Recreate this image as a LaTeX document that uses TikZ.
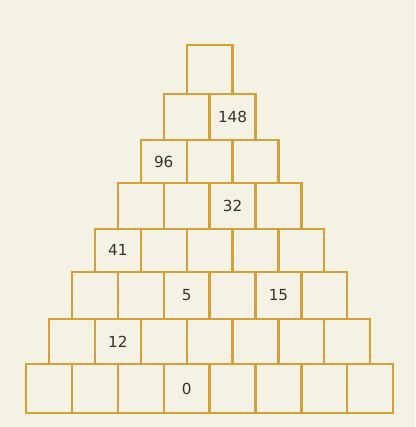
\documentclass[tikz,border=0pt]{standalone}
\usepackage{fontspec}
\setmainfont{DejaVu Sans}
\usetikzlibrary{positioning}
\definecolor{pyrbg}{HTML}{F4F2E4}
\definecolor{brickgold}{HTML}{D4A03A}
\definecolor{numgray}{HTML}{333333}

\begin{document}
\begin{tikzpicture}[
  x=0.03cm, y=-0.03cm,
  brick/.style={draw=brickgold, line width=1.9pt, minimum width=1.377cm, inner sep=0pt},
  num/.style={font=\fontsize{13}{15}\selectfont, text=numgray, inner sep=0pt}
]
  \fill[pyrbg] (0,0) rectangle (415,427);
  \useasboundingbox (0,0) rectangle (415,427);

  % rows of bricks, top to bottom
  \foreach \r/\yt/\yb in {1/45.3/94, 2/94/140.3, 3/140.3/183.3, 4/183.3/228.7,
                          5/228.7/271.7, 6/271.7/319.3, 7/319.3/364.3, 8/364.3/413.3} {
    \pgfmathsetmacro\bh{(\yb-\yt)*0.03}
    \foreach \c in {1,...,\r} {
      \node[brick, minimum height=\bh cm] (b-\r-\c)
        at ({26+(8-\r)*22.95+(\c-0.5)*45.9}, {(\yt+\yb)/2}) {};
    }
  }

  % given numbers
  \foreach \r/\c/\v in {2/2/148, 3/1/96, 4/3/32, 5/1/41, 6/3/5, 6/5/15, 7/2/12, 8/4/0} {
    \node[num] (n-\r-\c) at (b-\r-\c) {\v};
  }
\end{tikzpicture}
\end{document}
